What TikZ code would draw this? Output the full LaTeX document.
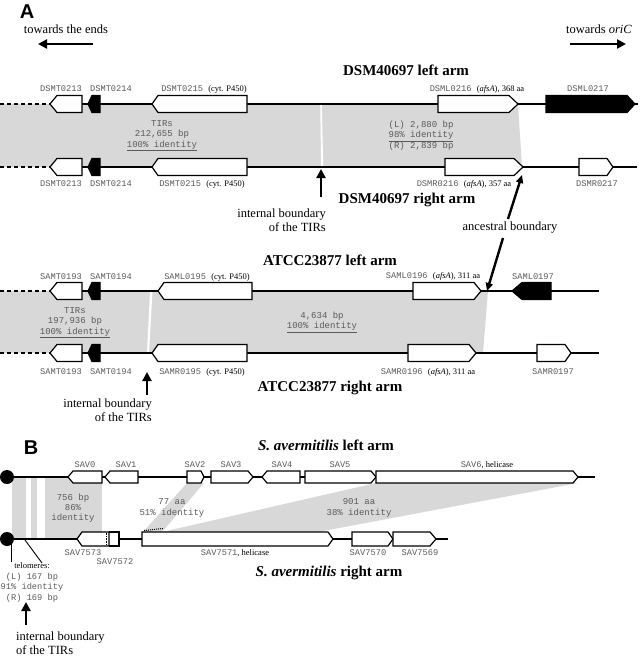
\documentclass[tikz,border=0pt]{standalone}
\usepackage{fontspec}
\setmainfont{Liberation Serif}
\newfontfamily\monof{Liberation Mono}
\newfontfamily\sansf{Liberation Sans}
\usetikzlibrary{arrows.meta}
\definecolor{shd}{HTML}{D8D8D8}
\definecolor{lbl}{HTML}{5A5A5A}
\newcommand\geneR[6]{\draw[gene,fill=#6] (#1,#2-#4) -- (#3-#5,#2-#4) -- (#3,#2) -- (#3-#5,#2+#4) -- (#1,#2+#4) -- cycle;}
\newcommand\geneL[6]{\draw[gene,fill=#6] (#3,#2-#4) -- (#1+#5,#2-#4) -- (#1,#2) -- (#1+#5,#2+#4) -- (#3,#2+#4) -- cycle;}
\newcommand\srf[1]{{\color{black}\rmfamily\fontsize{8.5}{9}\selectfont #1}}
\begin{document}
\begin{tikzpicture}[x=1pt,y=-1pt,
  gene/.style={draw=black, line width=1.2pt, line join=miter},
  base/.style={line width=1.2pt},
  dbase/.style={line width=1.2pt, dash pattern=on 4pt off 3pt},
  glab/.style={font=\monof\fontsize{8.7}{9}\selectfont, text=lbl, inner sep=0pt},
  mid/.style={font=\monof\fontsize{9}{10.5}\selectfont, text=lbl, align=center, inner sep=0pt},
  ttl/.style={font=\bfseries\fontsize{15}{17}\selectfont, inner sep=0pt},
  note/.style={font=\fontsize{12.5}{14}\selectfont, inner sep=0pt},
  panel/.style={font=\sansf\bfseries\fontsize{20}{22}\selectfont, inner sep=0pt},
  bigarrow/.style={line width=2.8pt, -{Triangle[length=9pt,width=9pt]}},
  ancarrow/.style={line width=2.4pt, -{Triangle[length=8pt,width=7pt]}}]
\useasboundingbox (0,0) rectangle (640,658);

% ================= Panel A header
\node[panel] (pA) at (27,12) {A};
\node[note] (tEnds) at (66,29) {towards the ends};
\coordinate (eA1) at (93,44); \coordinate (eA2) at (38,44);
\draw[bigarrow] (eA1) -- (eA2);
\node[note] (tOri) at (599,29) {towards \textit{oriC}};
\coordinate (oA1) at (570,44); \coordinate (oA2) at (626,44);
\draw[bigarrow] (oA1) -- (oA2);

% ================= DSM40697
\fill[shd] (0,104) -- (518,104) -- (522,167) -- (0,167) -- cycle;
\fill[white] (320.2,104) -- (321.8,104) -- (323.2,167) -- (321.2,167) -- cycle;
\draw[dbase] (0,104) -- (50,104);
\draw[base] (50,104) -- (638,104);
\draw[dbase] (0,167) -- (50,167);
\draw[base] (50,167) -- (637,167);

\geneL{50}{104}{82}{8.5}{7}{white}
\geneL{88}{104}{100}{8.5}{4}{black}
\geneL{152}{104}{247}{8.5}{6}{white}
\geneR{438}{104}{518}{8.5}{9}{white}
\geneR{546}{104}{635}{8.5}{8}{black}

\geneL{50}{167}{82}{8.5}{7}{white}
\geneL{88}{167}{100}{8.5}{4}{black}
\geneL{152}{167}{247}{8.5}{6}{white}
\geneR{445}{167}{523}{8.5}{9}{white}
\geneR{579}{167}{613}{8.5}{6}{white}

\node[ttl] (dslt) at (406,70) {DSM40697 left arm};
\node[glab] (d1) at (61,89) {DSMT0213};
\node[glab] (d2) at (111,89) {DSMT0214};
\node[glab] (d3) at (204,89) {DSMT0215 \srf{(cyt. P450)}};
\node[glab] (d4) at (477,89) {DSML0216 \srf{(\textit{afsA}), 368 aa}};
\node[glab] (d5) at (588,89) {DSML0217};
\node[glab] (d6) at (61,184) {DSMT0213};
\node[glab] (d7) at (111,184) {DSMT0214};
\node[glab] (d8) at (202,184) {DSMT0215 \srf{(cyt. P450)}};
\node[glab] (d9) at (464,184) {DSMR0216 \srf{(\textit{afsA}), 357 aa}};
\node[glab] (d10) at (597,184) {DSMR0217};

\node[mid] (dm1) at (162,135.5) {TIRs\\212,655 bp\\\underline{100\% identity}};
\node[mid] (dm2) at (421,135.5) {(L) 2,880 bp\\\underline{98\% identity}\\(R) 2,839 bp};

\node[ttl] (dsrt) at (407,200) {DSM40697 right arm};
\coordinate (ib1a) at (321,197); \coordinate (ib1b) at (321,169);
\draw[bigarrow] (ib1a) -- (ib1b);
\node[note, align=right, anchor=east] (ib1t) at (326,220) {internal boundary\\of the TIRs};

\node[note] (anc) at (510,228) {ancestral boundary};
\coordinate (an1) at (508,219); \coordinate (an2) at (522,175);
\coordinate (an3) at (503,238); \coordinate (an4) at (487,291);
\draw[ancarrow] (an1) -- (an2);
\draw[ancarrow] (an3) -- (an4);

% ================= ATCC23877
\fill[shd] (0,291) -- (488,291) -- (483,353) -- (0,353) -- cycle;
\fill[white] (150,291) -- (152.5,291) -- (149,353) -- (147,353) -- cycle;
\draw[dbase] (0,291) -- (50,291);
\draw[base] (50,291) -- (599,291);
\draw[dbase] (0,353) -- (50,353);
\draw[base] (50,353) -- (599,353);

\geneL{50}{291}{82}{8.5}{7}{white}
\geneL{88}{291}{100}{8.5}{4}{black}
\geneL{158}{291}{252}{8.5}{6}{white}
\geneR{413}{291}{481}{8.5}{7}{white}
\geneL{512}{291}{551}{8.5}{10}{black}

\geneL{50}{353}{82}{8.5}{7}{white}
\geneL{88}{353}{100}{8.5}{4}{black}
\geneL{152}{353}{247}{8.5}{6}{white}
\geneR{408}{353}{476}{8.5}{7}{white}
\geneR{537}{353}{571}{8.5}{6}{white}

\node[ttl] (satl) at (330,260) {ATCC23877 left arm};
\node[glab] (s1) at (61,277) {SAMT0193};
\node[glab] (s2) at (111,277) {SAMT0194};
\node[glab] (s3) at (207,277) {SAML0195 \srf{(cyt. P450)}};
\node[glab] (s4) at (433,276) {SAML0196 \srf{(\textit{afsA}), 311 aa}};
\node[glab] (s5) at (533,277) {SAML0197};
\node[glab] (s6) at (61,372) {SAMT0193};
\node[glab] (s7) at (111,372) {SAMT0194};
\node[glab] (s8) at (202,372) {SAMR0195 \srf{(cyt. P450)}};
\node[glab] (s9) at (428,372) {SAMR0196 \srf{(\textit{afsA}), 311 aa}};
\node[glab] (s10) at (553,372) {SAMR0197};

\node[mid] (sm1) at (75,322.5) {TIRs\\197,936 bp\\\underline{100\% identity}};
\node[mid] (sm2) at (322,322) {4,634 bp\\\underline{100\% identity}};

\node[ttl] (satr) at (330,388) {ATCC23877 right arm};
\coordinate (ib2a) at (147,395); \coordinate (ib2b) at (147,372);
\draw[bigarrow] (ib2a) -- (ib2b);
\node[note, align=right, anchor=east] (ib2t) at (152,410) {internal boundary\\of the TIRs};

% ================= Panel B
\node[panel] (pB) at (31,448) {B};
\node[ttl] (avl) at (326,445) {\textit{S. avermitilis} left arm};
\node[ttl] (avr) at (329,573) {\textit{S. avermitilis} right arm};

\fill[shd] (12,477) rectangle (26,539);
\fill[shd] (31,477) rectangle (37,539);
\fill[shd] (45,477) rectangle (102,539);
\fill[shd] (187,483) -- (204,483) -- (162,532) -- (143,532) -- cycle;
\fill[shd] (376,483) -- (578,483) -- (318,532) -- (162,532) -- cycle;

\draw[base] (7,477) -- (595,477);
\draw[base] (7,539) -- (448,539);
\fill (7,477) circle (7);
\fill (7,539) circle (7);

\geneL{68}{477}{102}{6}{5}{white}
\geneL{105}{477}{138}{6}{5}{white}
\geneR{187}{477}{204}{6}{3}{white}
\geneR{211}{477}{253}{6}{5}{white}
\geneL{262}{477}{300}{6}{5}{white}
\geneR{305}{477}{376}{6}{5}{white}
\geneR{376}{477}{578}{6}{5}{white}

\fill[white] (106,532) rectangle (119,546);
\geneL{77}{539}{109}{7}{5}{white}
\draw[gene] (109,532) -- (119,532) -- (119,546) -- (109,546);
\draw[line width=0.9pt, dash pattern=on 1.5pt off 1.2pt] (106,533) -- (106,545);
\geneR{142}{539}{333}{7}{5}{white}
\geneR{352}{539}{393}{7}{5}{white}
\geneR{393}{539}{436}{7}{6}{white}
\draw[line width=1pt, dash pattern=on 1pt off 1pt] (144,530.5) -- (163,528.5);

\node[glab] (b1) at (85,465) {SAV0};
\node[glab] (b2) at (126,465) {SAV1};
\node[glab] (b3) at (195,465) {SAV2};
\node[glab] (b4) at (231,465) {SAV3};
\node[glab] (b5) at (282,465) {SAV4};
\node[glab] (b6) at (340,465) {SAV5};
\node[glab] (b7) at (487,465) {SAV6\srf{, helicase}};
\node[glab] (b8) at (83,553) {SAV7573};
\node[glab] (b9) at (115,562) {SAV7572};
\node[glab] (b10) at (235,553) {SAV7571\srf{, helicase}};
\node[glab] (b11) at (368,553) {SAV7570};
\node[glab] (b12) at (420,553) {SAV7569};

\node[mid, font=\monof\fontsize{9}{10}\selectfont] (bm1) at (73,508) {756 bp\\86\%\\identity};
\node[mid, font=\monof\fontsize{9}{10.5}\selectfont] (bm2) at (172,508) {77 aa\\51\% identity};
\node[mid, font=\monof\fontsize{9}{10.5}\selectfont] (bm3) at (359,508) {901 aa\\38\% identity};

\coordinate (tl1) at (11,543); \coordinate (tl2) at (11,562);
\draw[line width=0.9pt] (tl1) -- (tl2);
\coordinate (tl3) at (25,540); \coordinate (tl4) at (42,563);
\draw[line width=0.9pt] (tl3) -- (tl4);
\node[inner sep=0pt, font=\fontsize{8.5}{9}\selectfont] (telo) at (32,566) {telomeres:};
\node[mid, font=\monof\fontsize{8.7}{10.5}\selectfont] (telm) at (32,587.5) {(L) 167 bp\\91\% identity\\(R) 169 bp};

\coordinate (ib3a) at (26,625); \coordinate (ib3b) at (26,602);
\draw[bigarrow] (ib3a) -- (ib3b);
\node[note, align=left, anchor=west] (ib3t) at (16,643) {internal boundary\\of the TIRs};
\end{tikzpicture}
\end{document}
